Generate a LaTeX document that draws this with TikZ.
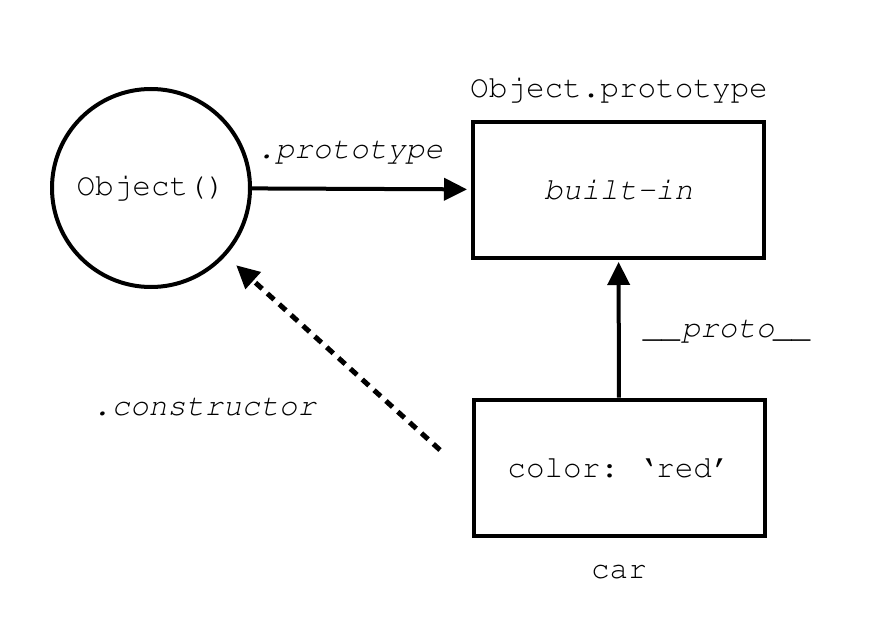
\documentclass[tikz,border=0pt]{standalone}
\usepackage[T1]{fontenc}
\usepackage{courier}
\usetikzlibrary{arrows.meta}
\begin{document}
\begin{tikzpicture}[x=1pt,y=-1pt,
  every node/.style={font=\fontsize{31}{37}\selectfont\ttfamily\frenchspacing,inner sep=0pt},
  objbox/.style={draw,line width=4pt,minimum width=291pt,minimum height=136pt},
  link/.style={line width=4pt,-{Triangle[length=23pt,width=22pt]}},
  lbl/.style={anchor=base,font=\fontsize{31}{37}\selectfont\ttfamily\itshape}]
  \useasboundingbox (0,0) rectangle (872,634);
  \node[draw,circle,line width=4pt,minimum size=198pt] (objfn) at (151,188) {Object()};
  \node[objbox] (proto) at (618.5,190) {\itshape built-in};
  \node[objbox] (car) at (619,467.5) {color: `red'};
  \node[anchor=base] (protoname) at (619,97) {Object.prototype};
  \node[anchor=base] (carname) at (619,578) {car};
  \coordinate (ctail) at (440,450);
  \draw[link,shorten >=4pt] (objfn) -- (proto);
  \node[lbl] (lproto) at (350,158) {.prototype};
  \draw[link,shorten >=2pt] (car) -- (proto);
  \node[lbl] (lproto2) at (728,337) {\_\_proto\_\_};
  \draw[link,line width=5pt,dash pattern=on 9pt off 7pt,shorten >=14pt] (ctail) -- (objfn);
  \node[lbl] (lcons) at (204.5,415) {.constructor};
\end{tikzpicture}
\end{document}
